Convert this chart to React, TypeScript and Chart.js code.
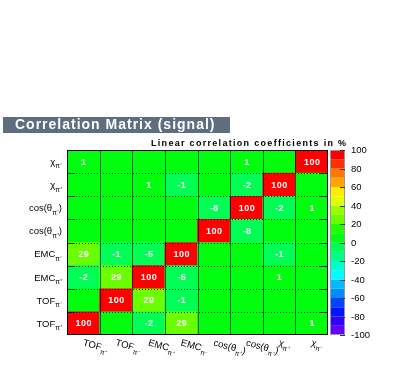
import React, { useEffect, useRef } from "react";
import { Chart, registerables } from "chart.js";

Chart.register(...registerables);

const variableLabels = [
  "TOF_{π⁺}", "TOF_{π⁻}", "EMC_{π⁺}", "EMC_{π⁻}",
  "cos(θ_{π⁺})", "cos(θ_{π⁻})", "χ_{π⁺}", "χ_{π⁻}",
];

// Linear correlation coefficients in %; row i = variable i (row 0 drawn at bottom), column j = variable j
const corrTOFp = [100, 0, -2, 29, 0, 0, 0, 1];
const corrTOFm = [0, 100, 29, -1, 0, 0, 0, 0];
const corrEMCp = [-2, 29, 100, -5, 0, 0, 1, 0];
const corrEMCm = [29, -1, -5, 100, 0, 0, -1, 0];
const corrCosP = [0, 0, 0, 0, 100, -8, 0, 0];
const corrCosM = [0, 0, 0, 0, -8, 100, -2, 1];
const corrChiP = [0, 0, 1, -1, 0, -2, 100, 0];
const corrChiM = [1, 0, 0, 0, 0, 1, 0, 100];
const correlationRows = [corrTOFp, corrTOFm, corrEMCp, corrEMCm, corrCosP, corrCosM, corrChiP, corrChiM];

const contourLevels = [-100, -90, -80, -70, -60, -50, -40, -30, -20, -10, 0, 10, 20, 30, 40, 50, 60, 70, 80, 90, 100];
const paletteTicks = [-100, -80, -60, -40, -20, 0, 20, 40, 60, 80, 100];

const titleText = "Correlation Matrix (signal)";
const subtitleText = "Linear correlation coefficients in %";

const FONT = '"Liberation Sans", Arial, Helvetica, sans-serif';

function levelColor(k: number): string {
  const nDiv = contourLevels.length - 1;
  const nColors = 50;
  const idx = Math.floor(((k + 0.99) * nColors) / nDiv);
  const hue = 280 - (idx + 1) * (280 / nColors);
  return `hsl(${hue}, 100%, 50%)`;
}

function valueColor(v: number): string {
  const nDiv = contourLevels.length - 1;
  let k = -1;
  for (let i = 0; i < nDiv; i++) {
    if (v >= contourLevels[i] && v < contourLevels[i + 1]) k = i;
  }
  if (k < 0) k = v >= contourLevels[nDiv] ? nDiv - 1 : 0;
  return levelColor(k);
}

function drawRich(ctx: CanvasRenderingContext2D, label: string, x: number, y: number, align: "left" | "right", size: number) {
  const m = label.match(/^(.*?)_\{(.*?)\}(.*)$/);
  const pre = m ? m[1] : label;
  const sub = m ? m[2] : "";
  const post = m ? m[3] : "";
  const mainFont = `${size}px ${FONT}`;
  const subFont = `${size * 0.72}px ${FONT}`;
  ctx.font = mainFont;
  const wPre = ctx.measureText(pre).width;
  const wPost = ctx.measureText(post).width;
  ctx.font = subFont;
  const wSub = ctx.measureText(sub).width;
  const total = wPre + wSub + wPost;
  const sx = align === "right" ? x - total : x;
  const base = y + size * 0.35;
  ctx.textAlign = "left";
  ctx.textBaseline = "alphabetic";
  ctx.font = mainFont;
  ctx.fillText(pre, sx, base);
  ctx.font = subFont;
  ctx.fillText(sub, sx + wPre, base + size * 0.38);
  ctx.font = mainFont;
  ctx.fillText(post, sx + wPre + wSub, base);
}

const matrixPlugin = {
  id: "matrixDecor",
  afterDatasetsDraw(chart: any) {
    const ctx: CanvasRenderingContext2D = chart.ctx;
    const area = chart.chartArea;
    const xs = chart.scales.x;
    const ys = chart.scales.y;
    const pal = chart.scales.palette;
    const n = variableLabels.length;
    ctx.save();

    // vertical grid lines (between columns)
    ctx.strokeStyle = "rgba(0,0,0,0.6)";
    ctx.lineWidth = 1;
    for (let c = 1; c < n; c++) {
      const xb = Math.round((xs.getPixelForValue(c - 1) + xs.getPixelForValue(c)) / 2) + 0.5;
      ctx.beginPath();
      ctx.moveTo(xb, area.top);
      ctx.lineTo(xb, area.bottom);
      ctx.stroke();
    }
    // horizontal dotted grid lines + ticks
    ctx.strokeStyle = "rgba(0,0,0,0.75)";
    for (let r = 1; r < n; r++) {
      const yb = Math.round(ys.getPixelForValue(r)) + 0.5;
      ctx.setLineDash([1, 2]);
      ctx.beginPath();
      ctx.moveTo(area.left, yb);
      ctx.lineTo(area.right, yb);
      ctx.stroke();
      ctx.setLineDash([]);
      ctx.beginPath();
      ctx.moveTo(area.left, yb);
      ctx.lineTo(area.left + 8, yb);
      ctx.moveTo(area.right - 8, yb);
      ctx.lineTo(area.right, yb);
      ctx.stroke();
    }
    // frame
    ctx.strokeStyle = "#000";
    ctx.strokeRect(Math.round(area.left) + 0.5, Math.round(area.top) + 0.5, Math.round(area.right - area.left) - 1, Math.round(area.bottom - area.top) - 1);

    // cell values
    ctx.fillStyle = "#fff";
    ctx.font = `bold 9px ${FONT}`;
    (ctx as any).letterSpacing = "0.5px";
    ctx.textAlign = "center";
    ctx.textBaseline = "middle";
    correlationRows.forEach((row, r) => {
      row.forEach((v, c) => {
        if (v === 0) return;
        ctx.fillText(String(v), xs.getPixelForValue(c) + 0.5, ys.getPixelForValue(r + 0.5) + 0.5);
      });
    });
    (ctx as any).letterSpacing = "0px";

    // y labels
    ctx.fillStyle = "#000";
    variableLabels.forEach((lab, r) => {
      drawRich(ctx, lab, area.left - 5, ys.getPixelForValue(r + 0.5), "right", 9.5);
    });
    // x labels (tilted)
    variableLabels.forEach((lab, c) => {
      ctx.save();
      ctx.translate(xs.getPixelForValue(c), area.bottom + 7);
      ctx.rotate(0.27);
      drawRich(ctx, lab, 0, 0, "left", 9.5);
      ctx.restore();
    });

    // colour palette
    const x0 = area.right + 2;
    const x1 = area.right + 17;
    for (let k = 0; k < contourLevels.length - 1; k++) {
      const yTop = pal.getPixelForValue(contourLevels[k + 1]);
      const yBot = pal.getPixelForValue(contourLevels[k]);
      ctx.fillStyle = levelColor(k);
      ctx.fillRect(x0, yTop, x1 - x0, yBot - yTop);
    }
    ctx.strokeStyle = "#999";
    ctx.strokeRect(x0 + 0.5, Math.round(area.top) + 0.5, x1 - x0 - 1, Math.round(area.bottom - area.top) - 1);
    ctx.strokeStyle = "#333";
    ctx.fillStyle = "#000";
    ctx.font = `9.5px ${FONT}`;
    ctx.textAlign = "left";
    ctx.textBaseline = "middle";
    paletteTicks.forEach((t) => {
      const yt = Math.round(pal.getPixelForValue(t)) + 0.5;
      ctx.beginPath();
      ctx.moveTo(x1 - 5, yt);
      ctx.lineTo(x1, yt);
      ctx.stroke();
      ctx.fillText(String(t), x1 + 6, yt);
    });

    // title box
    ctx.fillStyle = "#5e6d80";
    ctx.fillRect(3, 117, 227, 16);
    ctx.fillStyle = "#fff";
    ctx.font = `bold 14px ${FONT}`;
    (ctx as any).letterSpacing = "1px";
    ctx.textAlign = "left";
    ctx.textBaseline = "middle";
    ctx.fillText(titleText, 15, 125.5);

    // subtitle
    ctx.fillStyle = "#000";
    ctx.font = `bold 9px ${FONT}`;
    (ctx as any).letterSpacing = "1.3px";
    ctx.fillText(subtitleText, 151, 144);
    (ctx as any).letterSpacing = "0px";

    ctx.restore();
  },
};

export default function App() {
  const canvasRef = useRef<HTMLCanvasElement | null>(null);

  useEffect(() => {
    if (!canvasRef.current) return;
    const datasets = correlationRows.map((row, r) => ({
      label: variableLabels[r],
      data: row.map(() => [r, r + 1]),
      backgroundColor: row.map(valueColor),
      borderWidth: 0,
      grouped: false,
      barPercentage: 1,
      categoryPercentage: 1,
    }));
    const chart = new Chart(canvasRef.current, {
      type: "bar",
      data: { labels: variableLabels, datasets: datasets as any },
      options: {
        responsive: false,
        animation: false,
        layout: { padding: { left: 67, top: 150, right: 79, bottom: 39 } },
        plugins: {
          legend: { display: false },
          tooltip: { enabled: false },
          title: { display: false },
        },
        scales: {
          x: { type: "category", display: false, offset: true },
          y: { type: "linear", display: false, min: 0, max: variableLabels.length },
          palette: { type: "linear", axis: "y", position: "right", display: false, min: -100, max: 100 },
        },
      } as any,
      plugins: [matrixPlugin],
    });
    return () => chart.destroy();
  }, []);

  return (
    <div style={{ position: "absolute", left: 0, top: 0, width: 407, height: 374, background: "#fff" }}>
      <canvas ref={canvasRef} width={407} height={374} style={{ display: "block" }} />
    </div>
  );
}
